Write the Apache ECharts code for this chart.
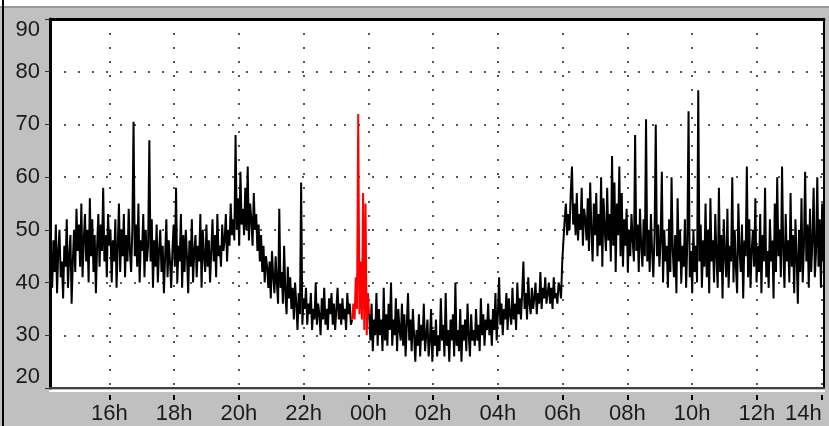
<!DOCTYPE html>
<html><head><meta charset="utf-8">
<script src="https://cdn.jsdelivr.net/npm/echarts@6/dist/echarts.min.js"></script>
<style>html,body{margin:0;padding:0;background:#c0c0c0;}#c{width:829px;height:426px;}</style>
</head><body><div id="c"></div>
<script>
// x axis in hours (24 = 00h of next day)
const hourTicks = [16, 18, 20, 22, 24, 26, 28, 30, 32, 34, 36, 38];
const xMin = 14.17, xMax = 38.07;
const yMin = 20, yMax = 90, yStep = 10;

// black trace: samples every sampleStep hours from sampleStart
const sampleStart = 14.2, sampleStep = 0.0375;
const blackValues = [
  45,39,48,42,51,38,46,50,41,44,
  37,47,43,52,39,45,49,36,44,50,
  42,54,46,51,43,55,41,48,53,44,
  50,40,56,45,52,42,49,38,47,53,
  43,51,46,58,44,49,41,53,47,50,
  40,48,44,52,39,47,55,42,50,45,
  53,41,49,44,54,46,42,50,70.5,45,
  51,43,55,40,48,46,53,41,50,44,
  47,67,44,52,39,48,43,51,40,46,
  50,42,47,38,45,52,41,48,44,39,
  46,51,43,58,40,47,44,53,39,49,
  42,50,45,38,48,43,52,40,46,49,
  41,47,44,53,39,50,45,42,51,43,
  48,40,46,52,44,49,41,53,45,47,
  43,51,46,48,53,44,50,47,55,49,
  52,48,68,50,56,47,61,51,54,49,
  58,50,62,48,55,52,47,57,50,53,
  46,51,44,49,42,47,40,45,43,39,
  44,37,46,41,38,45,40,36,54,39,
  42,36,47,38,34,43,37,41,35,39,
  33,40,36,31,38,34,59,32,37,35,
  39,32,36,34,38,31,35,33,40,32,
  36,34,30,37,33,39,32,35,31,37,
  34,38,32,36,31,35,39,33,36,32,
  37,33,35,31,38,34,36,32,33,null,
  null,null,null,null,null,null,null,null,null,null,
  null,null,34,29,36,27,33,30,38,28,
  35,30,33,27,39,29,34,28,36,31,
  40,28,33,30,37,27,35,31,29,36,
  28,34,26,32,38,29,33,27,35,30,
  25,31,28,34,26,32,29,36,27,30,
  33,26,29,35,25,31,28,33,26,30,
  27,37,29,32,26,38,28,31,25,33,
  29,34,26,40,28,31,27,35,25,32,
  29,33,27,36,30,26,34,29,31,28,
  35,29,32,27,37,30,34,28,33,31,
  36,30,33,28,35,31,38,29,34,41,
  32,36,30,35,33,38,31,37,34,32,
  39,33,36,31,40,34,37,33,38,44,
  35,38,33,41,36,34,39,35,37,40,
  34,38,36,42,35,39,37,41,36,38,
  40,36,39,35,41,37,38,36,40,39,
  37,44,48,52,55,49,53,50,57,62,
  51,55,49,57,48,53,50,58,47,54,
  52,48,56,46,59,50,44,55,49,57,
  45,53,47,60,43,56,50,46,58,48,
  53,44,64,47,59,42,55,49,62,45,
  57,43,52,47,54,42,50,45,53,48,
  44,68,46,51,42,54,47,43,52,45,
  71,44,50,42,53,46,41,49,70,45,
  51,43,48,61,40,50,44,47,39,52,
  42,60,46,41,49,38,56,44,50,40,
  47,43,52,39,48,72.5,41,46,38,50,
  42,47,40,76.5,44,51,39,48,43,55,
  41,50,38,56,44,48,40,53,45,39,
  58,42,49,37,52,45,41,54,39,47,
  44,60,40,50,43,38,55,46,42,51,
  37,48,45,62,41,52,39,46,50,43,
  56,40,47,42,53,38,49,44,58,41,
  46,39,52,44,48,37,55,42,60,45,
  50,41,62,46,39,53,44,48,40,57,
  43,49,38,52,45,36,50,42,56,40,
  47,61,44,51,39,54,42,48,58,41,
  46,60,43,52,39,55,44
];

// red section around midnight
const redTimes = [23.5,23.5375,23.575,23.6125,23.65,23.6875,23.725,23.7625,23.8,23.8375,23.875,23.9125,23.95,23.9875,24.025];
const redValues = [33,36,33,41,35,72,34,44,33,57,31,55,30,38,34];

const blackData = blackValues.map((v, i) => [sampleStart + i * sampleStep, v]);
const redData = redTimes.map((t, i) => [t, redValues[i]]);

const fontFamily = '"Liberation Sans", Arial, sans-serif';
const hourFmt = v => String(Math.round(v) % 24).padStart(2, '0') + 'h';
const dotted = { type: [2, 12], color: '#555', width: 2 };

const chart = echarts.init(document.getElementById('c'), null, { renderer: 'canvas' });
chart.setOption({
  animation: false,
  backgroundColor: '#c0c0c0',
  textStyle: { fontFamily },
  graphic: [
    { type: 'rect', left: 0, top: 0, shape: { width: 829, height: 6 }, style: { fill: '#fff' }, silent: true },
    { type: 'rect', left: 0, top: 6, shape: { width: 829, height: 2 }, style: { fill: '#999' }, silent: true },
    { type: 'rect', left: 2, top: 0, shape: { width: 2, height: 426 }, style: { fill: '#000' }, silent: true }
  ],
  grid: { left: 50, right: 5, top: 19, bottom: 38, show: true, backgroundColor: '#fff', borderWidth: 0,
    outerBoundsMode: 'none', containLabel: false },
  xAxis: [
    {
      type: 'value', min: xMin, max: xMax, position: 'bottom', offset: 7,
      axisLine: { show: false },
      axisTick: { show: true, customValues: hourTicks, length: 5, lineStyle: { color: '#000', width: 2 } },
      axisLabel: { customValues: hourTicks, formatter: hourFmt, fontSize: 22, color: '#1a1a1a', margin: 8, fontFamily,
        alignMaxLabel: 'right' },
      splitLine: { show: true, lineStyle: dotted }
    },
    {
      type: 'value', min: xMin, max: xMax, position: 'top',
      axisLine: { show: true, lineStyle: { color: '#000', width: 3 } },
      axisTick: { show: false }, axisLabel: { show: false }, splitLine: { show: false }
    },
    {
      type: 'value', min: xMin, max: xMax, position: 'bottom', offset: 0,
      axisLine: { show: true, lineStyle: { color: '#404040', width: 2 } },
      axisTick: { show: false }, axisLabel: { show: false }, splitLine: { show: false }
    },
    {
      type: 'value', min: xMin, max: xMax, position: 'bottom', offset: 3,
      axisLine: { show: true, lineStyle: { color: '#fff', width: 2 } },
      axisTick: { show: false }, axisLabel: { show: false }, splitLine: { show: false }
    }
  ],
  yAxis: [
    {
      type: 'value', min: yMin, max: yMax, interval: yStep, position: 'left',
      axisLine: { show: true, lineStyle: { color: '#000', width: 3 } },
      axisTick: { show: true, length: 5, lineStyle: { color: '#333' } },
      axisLabel: { fontSize: 22, color: '#1a1a1a', margin: 10, fontFamily,
        verticalAlignMinLabel: 'bottom', verticalAlignMaxLabel: 'top' },
      splitLine: { show: true, lineStyle: dotted }
    },
    {
      type: 'value', min: yMin, max: yMax, position: 'right',
      axisLine: { show: true, lineStyle: { color: '#000', width: 2 } },
      axisTick: { show: false }, axisLabel: { show: false }, splitLine: { show: false }
    }
  ],
  series: [
    { type: 'line', data: blackData, xAxisIndex: 0, yAxisIndex: 0, showSymbol: false, connectNulls: false,
      lineStyle: { color: '#000', width: 2 }, z: 2 },
    { type: 'line', data: redData, xAxisIndex: 0, yAxisIndex: 0, showSymbol: false,
      lineStyle: { color: '#ff0000', width: 2 }, z: 3 }
  ]
});
</script>
</body></html>
